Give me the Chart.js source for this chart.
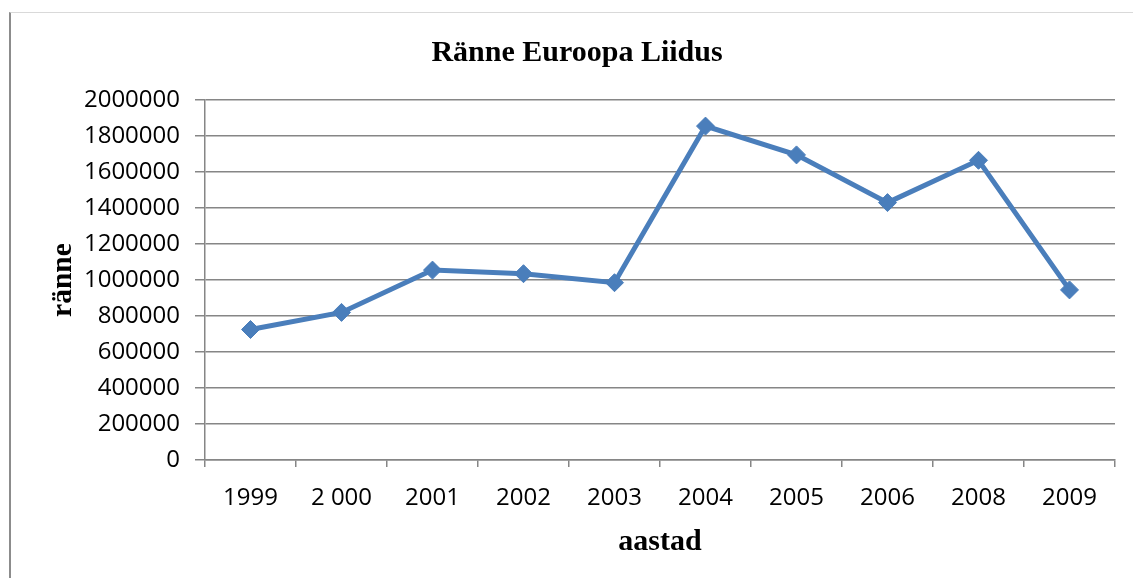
<!DOCTYPE html>
<html>
<head>
<meta charset="utf-8">
<script src="https://cdn.jsdelivr.net/npm/chart.js@4/dist/chart.umd.min.js"></script>
<style>
  html, body { margin: 0; padding: 0; background: #fff; }
  #wrap { position: relative; width: 1133px; height: 578px; }
  #frame {
    position: absolute; left: 9px; top: 12px; right: 0; bottom: 0;
    border-left: 2px solid #8c8c8c; border-top: 1px solid #d9d9d9;
  }
  #migrationChart { position: absolute; left: 0; top: 0; }
</style>
</head>
<body>
<div id="wrap">
  <div id="frame"></div>
  <canvas id="migrationChart" width="1133" height="578"></canvas>
</div>
<script>
  // data
  const years = ["1999", "2 000", "2001", "2002", "2003", "2004", "2005", "2006", "2008", "2009"];
  const migration = [725000, 820000, 1055000, 1035000, 985000, 1855000, 1695000, 1430000, 1665000, 945000];
  const yTicks = [0, 200000, 400000, 600000, 800000, 1000000, 1200000, 1400000, 1600000, 1800000, 2000000];

  const gridGray = "#868686";
  const serifBold = { family: "'Liberation Serif', 'Times New Roman', serif", weight: "bold" };
  const tickFont = { family: "'Open Sans', sans-serif", size: 24 };

  new Chart(document.getElementById("migrationChart"), {
    type: "line",
    data: {
      labels: years,
      datasets: [{
        label: "ränne",
        data: migration,
        borderColor: "#4A7EBB",
        backgroundColor: "#4A7EBB",
        borderWidth: 5,
        pointStyle: "rectRot",
        pointRadius: 9,
        pointBorderWidth: 1,
        tension: 0
      }]
    },
    options: {
      responsive: false,
      animation: false,
      // left padding shifts the main title's centre like in the original
      layout: { padding: { left: 39, right: 18, top: 0, bottom: 0 } },
      plugins: {
        legend: { display: false },
        tooltip: { enabled: false },
        title: {
          display: true,
          text: "Ränne Euroopa Liidus",
          color: "#000",
          font: { ...serifBold, size: 30 },
          padding: { top: 35, bottom: 29 }
        }
      },
      scales: {
        x: {
          offset: true,
          grid: { display: true, drawOnChartArea: false, drawTicks: true, tickLength: 7, color: gridGray, lineWidth: 1.5, offset: true },
          border: { display: true, color: gridGray, width: 1.5 },
          ticks: { color: "#000", font: tickFont, padding: 17, maxRotation: 0 },
          title: { display: true, text: "aastad", color: "#000", font: { ...serifBold, size: 30 }, padding: { top: 0, bottom: 18 } },
          afterFit: scale => { scale.height = 118; }
        },
        y: {
          min: 0,
          max: 2000000,
          afterBuildTicks: scale => { scale.ticks = yTicks.map(v => ({ value: v })); },
          grid: { color: gridGray, lineWidth: 1.5, tickLength: 10 },
          border: { display: true, color: gridGray, width: 1.5 },
          ticks: { color: "#000", font: tickFont, padding: 15, callback: v => String(v) },
          title: { display: true, text: "ränne", color: "#000", font: { ...serifBold, size: 29.5 }, padding: { top: 7, bottom: 0 } },
          afterFit: scale => { scale.width = 166; }
        }
      }
    }
  });
</script>
</body>
</html>
